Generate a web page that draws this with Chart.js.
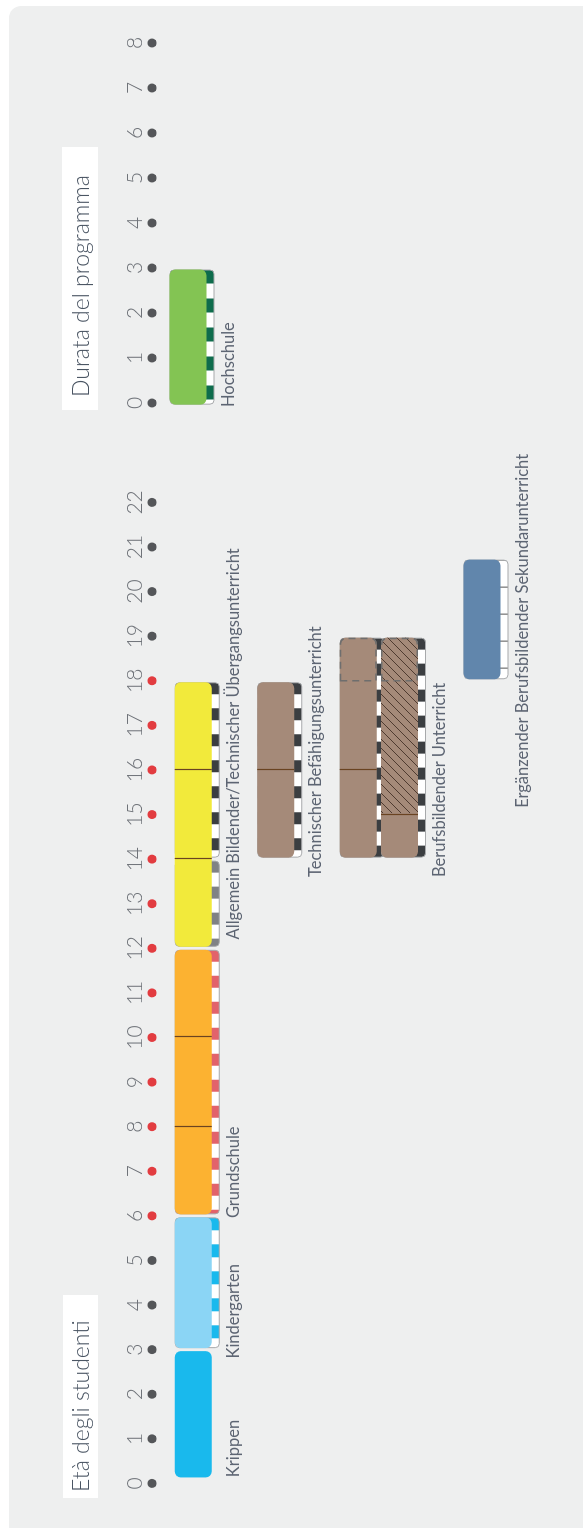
<!DOCTYPE html>
<html lang="it">
<head>
<meta charset="utf-8">
<title>Età degli studenti / Durata del programma</title>
<script src="https://cdn.jsdelivr.net/npm/chart.js@4.4.1/dist/chart.umd.min.js"></script>
<style>
  html, body { margin:0; padding:0; background:#ffffff; }
  body { width:583px; height:1528px; overflow:hidden; position:relative; }
  #stage { position:absolute; left:0; top:0; width:1528px; height:583px; transform-origin:0 0; transform:translateY(1528px) rotate(-90deg); }
  #panel { position:absolute; left:0; top:9px; width:1522px; height:574px; background:#eeefef; border-top-right-radius:12px; }
  .title { position:absolute; background:#ffffff; color:#4a5563; font-family:Lato, "Open Sans", sans-serif; font-weight:300; font-size:23px; line-height:35px; height:35px; white-space:nowrap; box-sizing:border-box; }
  #t1 { left:30px; top:63px; width:203px; padding-left:6px; }
  #t2 { left:1118px; top:62px; width:263px; height:36px; line-height:36px; padding-left:13px; }
  #ageWrap { position:absolute; left:0; top:0; width:1100px; height:583px; }
  #durWrap { position:absolute; left:1100px; top:0; width:428px; height:583px; }
  canvas { display:block; }
</style>
</head>
<body>
<div id="stage">
  <div id="panel"></div>
  <div id="ageWrap"><canvas id="ageChart" width="1100" height="583"></canvas></div>
  <div id="durWrap"><canvas id="durChart" width="428" height="583"></canvas></div>
  <div class="title" id="t1">Età degli studenti</div>
  <div class="title" id="t2">Durata del programma</div>
</div>
<script>
// ---------------- DATA: age chart ----------------
const ageTicks = [0,1,2,3,4,5,6,7,8,9,10,11,12,13,14,15,16,17,18,19,20,21,22];
const compulsoryAges = [6,7,8,9,10,11,12,13,14,15,16,17,18];
const ageRows = ['dots','schule','leer1','technisch','leer2','beruflichA','beruflichB','leer3','ergaenzend'];

const progNames  = ['Krippen','Kindergarten','Grundschule','Allgemein Bildender/Technischer Übergangsunterricht','Technischer Befähigungsunterricht','Berufsbildender Unterricht','Berufsbildender Unterricht (Teilzeit)','Ergänzender Berufsbildender Sekundarunterricht'];
const progRows   = ['schule','schule','schule','schule','technisch','beruflichA','beruflichB','ergaenzend'];
const progStart  = [0.1, 3, 6, 12, 14, 14, 14, 18];
const progEnd    = [3, 6, 12, 18, 18, 19, 19, 20.75];
const progKinds  = ['krippe','kindergarten','grundschule','sekundar','beruf','beruf','beruf','ergaenzend'];

const stripRows   = ['schule','schule','schule','schule','technisch','beruflichA','beruflichB','ergaenzend'];
const stripStart  = [3, 6, 12, 14, 14, 14, 14, 18];
const stripEnd    = [6, 12, 14, 18, 18, 19, 19, 20.75];
const stripLevels = ['ISCED 0','ISCED 1','ISCED 2','ISCED 3','ISCED 3','ISCED 3','ISCED 3','ISCED 4'];

const dividerRows = ['schule','schule','schule','schule','technisch','beruflichA','beruflichB'];
const dividerAges = [8, 10, 14, 16, 16, 16, 15];

const optionalRows  = ['beruflichA','beruflichB'];
const optionalStart = [18, 18];
const optionalEnd   = [19, 19];

const alternatingRows  = ['beruflichB'];
const alternatingStart = [15];
const alternatingEnd   = [19];

const labelTexts = ['Krippen','Kindergarten','Grundschule','Allgemein Bildender/Technischer Übergangsunterricht','Technischer Befähigungsunterricht','Berufsbildender Unterricht','Ergänzender Berufsbildender Sekundarunterricht'];
const labelRows  = ['schule','schule','schule','schule','technisch','beruflichB','ergaenzend'];
const labelAges  = [0.14, 2.8, 5.95, 12.2, 13.6, 13.6, 15.15];

// ---------------- DATA: duration chart ----------------
const durTicks = [0,1,2,3,4,5,6,7,8];
const durRows  = ['dots','hochschule'];
const uniNames = ['Hochschule'];
const uniRows  = ['hochschule'];
const uniStart = [-0.07];
const uniEnd   = [3];
const uniKinds = ['hochschule'];
const uniStripRows   = ['hochschule'];
const uniStripStart  = [-0.07];
const uniStripEnd    = [3];
const uniStripLevels = ['ISCED 6'];
const uniLabelTexts = ['Hochschule'];
const uniLabelRows  = ['hochschule'];
const uniLabelAges  = [-0.09];

// ---------------- STYLES ----------------
const KIND_COLOR = {
  krippe: '#19b9ed', kindergarten: '#8bd5f5', grundschule: '#fcb231', sekundar: '#f2ea3b',
  beruf: '#a58a79', ergaenzend: '#6186ac', hochschule: '#83c453'
};
const LEVEL_STYLE = {
  'ISCED 0': { color: '#19b9ed', on: 13, period: 27 },
  'ISCED 1': { color: '#e2636b', on: 12, period: 26 },
  'ISCED 2': { color: '#808285', on: 12, period: 26 },
  'ISCED 3': { color: '#3b3e41', on: 12, period: 26 },
  'ISCED 4': { color: '#555555', on: 1,  period: 27 },
  'ISCED 6': { color: '#0e6c4c', on: 14, period: 29 }
};
const BAR = 40, GAP = 1.5, STRIP = 8, RADIUS = 6;
const DOT_GREY = '#545659', DOT_RED = '#e23c40';
const TICK_FONT = { family: 'Lato', size: 21, weight: '300' };
const LABEL_FONT = '400 16.5px Lato';

function makeStripe(ctx, st) {
  const c = document.createElement('canvas');
  c.width = st.period; c.height = 4;
  const g = c.getContext('2d');
  g.fillStyle = '#ffffff'; g.fillRect(0, 0, st.period, 4);
  g.fillStyle = st.color; g.fillRect(st.period - st.on, 0, st.on, 4);
  return ctx.createPattern(c, 'repeat');
}
function makeHatch(ctx) {
  const s = 9;
  const c = document.createElement('canvas');
  c.width = s; c.height = s;
  const g = c.getContext('2d');
  g.strokeStyle = 'rgba(70,50,40,0.9)'; g.lineWidth = 1;
  g.beginPath();
  g.moveTo(0, s); g.lineTo(s, 0);
  g.moveTo(-1, 1); g.lineTo(1, -1);
  g.moveTo(s - 1, s + 1); g.lineTo(s + 1, s - 1);
  g.stroke();
  return ctx.createPattern(c, 'repeat');
}
function roundedPath(ctx, x, y, w, h, r) {
  ctx.beginPath();
  ctx.moveTo(x + r, y);
  ctx.lineTo(x + w - r, y); ctx.arcTo(x + w, y, x + w, y + r, r);
  ctx.lineTo(x + w, y + h - r); ctx.arcTo(x + w, y + h, x + w - r, y + h, r);
  ctx.lineTo(x + r, y + h); ctx.arcTo(x, y + h, x, y + h - r, r);
  ctx.lineTo(x, y + r); ctx.arcTo(x, y, x + r, y, r);
  ctx.closePath();
}

const decorPlugin = {
  id: 'eduDecor',
  beforeDatasetsDraw(chart, args, opts) {
    const ctx = chart.ctx, xs = chart.scales.x, ys = chart.scales.y;
    (opts.strips || []).forEach(s => {
      const st = LEVEL_STYLE[s.level];
      const x0 = xs.getPixelForValue(s.from) + GAP, x1 = xs.getPixelForValue(s.to) - GAP;
      const yc = ys.getPixelForValue(s.row);
      const top = yc - BAR / 2 + GAP, bottom = yc + BAR / 2 - GAP + STRIP;
      const pat = makeStripe(ctx, st);
      pat.setTransform(new DOMMatrix([1, 0, 0, 1, x1, 0]));
      ctx.save();
      roundedPath(ctx, x0 + 0.5, top + 0.5, x1 - x0 - 1, bottom - top - 1, 4);
      ctx.fillStyle = pat; ctx.fill();
      ctx.lineWidth = 1; ctx.strokeStyle = '#a7a9ab'; ctx.stroke();
      ctx.restore();
    });
  },
  afterDatasetsDraw(chart, args, opts) {
    const ctx = chart.ctx, xs = chart.scales.x, ys = chart.scales.y;
    ctx.save();
    (opts.dividers || []).forEach(d => {
      const px = Math.round(xs.getPixelForValue(d.at)) + 0.5;
      const yc = ys.getPixelForValue(d.row);
      ctx.beginPath();
      ctx.moveTo(px, yc - BAR / 2 + GAP); ctx.lineTo(px, yc + BAR / 2 - GAP);
      ctx.strokeStyle = '#6a4321'; ctx.lineWidth = 1.2; ctx.stroke();
    });
    (opts.optional || []).forEach(o => {
      const x0 = xs.getPixelForValue(o.from), x1 = xs.getPixelForValue(o.to) - GAP - 0.8;
      const yc = ys.getPixelForValue(o.row);
      const top = yc - BAR / 2 + GAP + 0.8, bottom = yc + BAR / 2 - GAP - 0.8;
      const r = RADIUS - 1;
      ctx.beginPath();
      ctx.moveTo(x0, top);
      ctx.lineTo(x1 - r, top); ctx.arcTo(x1, top, x1, top + r, r);
      ctx.lineTo(x1, bottom - r); ctx.arcTo(x1, bottom, x1 - r, bottom, r);
      ctx.lineTo(x0, bottom); ctx.closePath();
      ctx.setLineDash([7, 5]);
      ctx.strokeStyle = '#6e6e6e'; ctx.lineWidth = 1.5; ctx.stroke();
      ctx.setLineDash([]);
    });
    ctx.font = LABEL_FONT; ctx.fillStyle = '#5d6573';
    ctx.textAlign = 'left'; ctx.textBaseline = 'alphabetic';
    (opts.labels || []).forEach(l => {
      const px = xs.getPixelForValue(l.at);
      const yc = ys.getPixelForValue(l.row);
      ctx.fillText(l.text, px, yc + BAR / 2 - GAP + STRIP + 19);
    });
    ctx.restore();
  }
};

function xAxis(min, max) {
  return {
    type: 'linear', axis: 'x', position: 'top', min: min, max: max, offset: false, beginAtZero: false,
    grid: { display: false, drawTicks: false, offset: false }, border: { display: false },
    ticks: { stepSize: 1, autoSkip: false, maxRotation: 0, padding: 4, color: '#6f7379', font: TICK_FONT },
    afterFit(scale) { scale.height = 30; }
  };
}
function yAxis(rows) {
  return { type: 'category', axis: 'y', labels: rows, offset: false, display: false, grid: { display: false, offset: false } };
}
function barDataset(names, rows, starts, ends, kinds) {
  return {
    type: 'bar', indexAxis: 'y', label: 'Programmi', order: 3,
    data: names.map((n, i) => ({ x: [starts[i], ends[i]], y: rows[i], name: n })),
    backgroundColor: kinds.map(k => KIND_COLOR[k]),
    barThickness: BAR, grouped: false, borderRadius: RADIUS, borderSkipped: false,
    borderWidth: 0, inflateAmount: -GAP, clip: false
  };
}
function dotDataset(ticks, redList) {
  return {
    type: 'scatter', indexAxis: 'y', label: 'Punti', order: 1,
    data: ticks.map(t => ({ x: t, y: 'dots' })),
    pointBackgroundColor: ticks.map(t => redList.includes(t) ? DOT_RED : DOT_GREY),
    pointBorderWidth: 0, pointRadius: 4.5, pointHoverRadius: 4.5, clip: false
  };
}
const baseOptions = {
  responsive: false, animation: false, events: [], indexAxis: 'y',
  plugins: { legend: { display: false }, tooltip: { enabled: false }, title: { display: false } }
};

// ---------------- age chart ----------------
const ageCtx = document.getElementById('ageChart').getContext('2d');
const hatchPattern = makeHatch(ageCtx);
new Chart(ageCtx, {
  type: 'bar',
  data: {
    datasets: [
      barDataset(progNames, progRows, progStart, progEnd, progKinds),
      {
        type: 'bar', indexAxis: 'y', label: 'Alternanza', order: 2,
        data: alternatingRows.map((r, i) => ({ x: [alternatingStart[i], alternatingEnd[i]], y: r })),
        backgroundColor: hatchPattern, barThickness: BAR, grouped: false,
        borderRadius: { topLeft: 0, bottomLeft: 0, topRight: RADIUS, bottomRight: RADIUS },
        borderSkipped: false, borderWidth: 0, inflateAmount: -GAP, clip: false
      },
      dotDataset(ageTicks, compulsoryAges)
    ]
  },
  options: Object.assign({}, baseOptions, {
    layout: { padding: { left: 44.6, right: 74.4, top: 122, bottom: 101 } },
    scales: { x: xAxis(0, 22), y: yAxis(ageRows) },
    plugins: Object.assign({}, baseOptions.plugins, {
      eduDecor: {
        strips: stripRows.map((r, i) => ({ row: r, from: stripStart[i], to: stripEnd[i], level: stripLevels[i] })),
        dividers: dividerRows.map((r, i) => ({ row: r, at: dividerAges[i] })),
        optional: optionalRows.map((r, i) => ({ row: r, from: optionalStart[i], to: optionalEnd[i] })),
        labels: labelTexts.map((t, i) => ({ text: t, row: labelRows[i], at: labelAges[i] }))
      }
    })
  }),
  plugins: [decorPlugin]
});

// ---------------- duration chart ----------------
const durCtx = document.getElementById('durChart').getContext('2d');
new Chart(durCtx, {
  type: 'bar',
  data: {
    datasets: [
      barDataset(uniNames, uniRows, uniStart, uniEnd, uniKinds),
      dotDataset(durTicks, [])
    ]
  },
  options: Object.assign({}, baseOptions, {
    layout: { padding: { left: 25, right: 43, top: 122, bottom: 395 } },
    scales: { x: xAxis(0, 8), y: yAxis(durRows) },
    plugins: Object.assign({}, baseOptions.plugins, {
      eduDecor: {
        strips: uniStripRows.map((r, i) => ({ row: r, from: uniStripStart[i], to: uniStripEnd[i], level: uniStripLevels[i] })),
        dividers: [], optional: [],
        labels: uniLabelTexts.map((t, i) => ({ text: t, row: uniLabelRows[i], at: uniLabelAges[i] }))
      }
    })
  }),
  plugins: [decorPlugin]
});
</script>
</body>
</html>
